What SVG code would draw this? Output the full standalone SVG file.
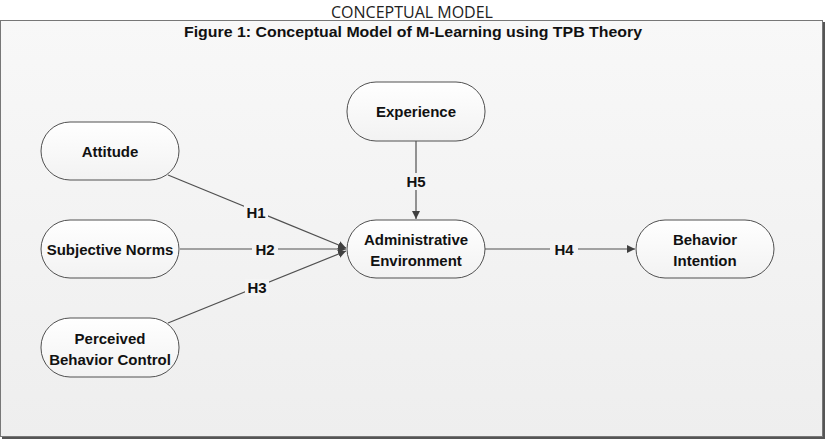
<svg xmlns="http://www.w3.org/2000/svg" width="826" height="440" viewBox="0 0 826 440">
<defs>
<linearGradient id="bg" x1="0" y1="0" x2="0" y2="1">
<stop offset="0" stop-color="#f8f8f8"/>
<stop offset="1" stop-color="#eeeeee"/>
</linearGradient>
<linearGradient id="nf" x1="0" y1="0" x2="0" y2="1">
<stop offset="0" stop-color="#ffffff"/>
<stop offset="1" stop-color="#f2f2f2"/>
</linearGradient>
<marker id="ah" viewBox="0 0 10 10" refX="10" refY="5" markerWidth="8" markerHeight="8" markerUnits="userSpaceOnUse" orient="auto">
<path d="M0,0 L10,5 L0,10 z" fill="#404040"/>
</marker>
<style>
.node rect{fill:url(#nf);stroke:#505050;stroke-width:1}
.node text,.lbl{font-family:"Liberation Sans",Arial,sans-serif;font-weight:bold;font-size:15px;fill:#111;text-anchor:middle}
.edge{stroke:#505050;stroke-width:1.2;fill:none;marker-end:url(#ah)}
.lb{fill:#f4f4f4}
</style>
</defs>
<rect x="0" y="0" width="826" height="440" fill="#ffffff"/>
<text x="412" y="18" font-family="'Open Sans','Liberation Sans',sans-serif" font-size="16" fill="#222" text-anchor="middle">CONCEPTUAL MODEL</text>
<rect x="2" y="22" width="823" height="417" fill="#555"/>
<rect x="0.5" y="20.5" width="822" height="416" fill="url(#bg)" stroke="#777" stroke-width="1"/>
<text x="413" y="37" font-family="'Liberation Sans',Arial,sans-serif" font-weight="bold" font-size="14.5" fill="#111" text-anchor="middle" textLength="458" lengthAdjust="spacingAndGlyphs">Figure 1: Conceptual Model of M-Learning using TPB Theory</text>

<g id="connectors">
<path class="edge" d="M168,175 L346,248"/>
<path class="edge" d="M180,249 L346,249"/>
<path class="edge" d="M168,323 L346,251"/>
<path class="edge" d="M416,141 L416,219"/>
<path class="edge" d="M485,249 L635,249"/>
<rect class="lb" x="244" y="203" width="24" height="17"/>
<text class="lbl" x="256" y="218">H1</text>
<rect class="lb" x="252" y="241" width="26" height="17"/>
<text class="lbl" x="265" y="255">H2</text>
<rect class="lb" x="245" y="279" width="24" height="17"/>
<text class="lbl" x="257" y="293">H3</text>
<rect class="lb" x="404" y="173" width="24" height="17"/>
<text class="lbl" x="416" y="187">H5</text>
<rect class="lb" x="550" y="241" width="28" height="17"/>
<text class="lbl" x="564" y="255">H4</text>
</g>

<g id="attitude" class="node">
<rect x="41" y="122" width="138" height="58" rx="29" ry="29"/>
<text x="110" y="157">Attitude</text>
</g>
<g id="subjective-norms" class="node">
<rect x="41" y="220" width="138" height="58" rx="29" ry="29"/>
<text x="110" y="255">Subjective Norms</text>
</g>
<g id="perceived-behavior-control" class="node">
<rect x="41" y="318" width="138" height="59" rx="29" ry="29"/>
<text x="110" y="344">Perceived</text>
<text x="110" y="365">Behavior Control</text>
</g>
<g id="experience" class="node">
<rect x="347" y="82" width="138" height="59" rx="29" ry="29"/>
<text x="416" y="117">Experience</text>
</g>
<g id="administrative-environment" class="node">
<rect x="347" y="220" width="138" height="58" rx="29" ry="29"/>
<text x="416" y="245">Administrative</text>
<text x="416" y="266">Environment</text>
</g>
<g id="behavior-intention" class="node">
<rect x="636" y="220" width="138" height="58" rx="29" ry="29"/>
<text x="705" y="245">Behavior</text>
<text x="705" y="266">Intention</text>
</g>
</svg>
